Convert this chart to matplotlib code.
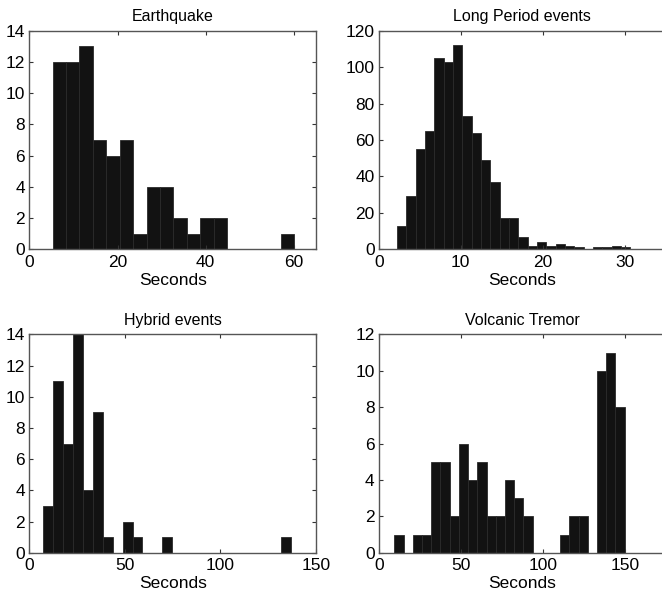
import numpy as np
import matplotlib
matplotlib.use('Agg')
import matplotlib.pyplot as plt

# ==========================[Data]=============================

eq_range = (5.3, 60.0)
eq_counts = [12, 12, 13, 7, 6, 7, 1, 4, 4, 2, 1, 2, 2, 0, 0, 0, 0, 1]

lp_range = (2.24, 30.7)
lp_counts = [13, 29, 55, 65, 105, 103, 112, 73, 64, 49, 37, 17, 17, 7,
             2, 4, 2, 3, 2, 1, 0, 1, 1, 2, 1]

hy_range = (7.3, 137.1)
hy_counts = [3, 11, 7, 14, 4, 9, 1, 0, 2, 1, 0, 0, 1,
             0, 0, 0, 0, 0, 0, 0, 0, 0, 0, 0, 1]

vt_range = (9.6, 150.0)
vt_counts = [1, 0, 1, 1, 5, 5, 2, 6, 4, 5, 2, 2, 4, 3, 2,
             0, 0, 0, 1, 2, 2, 0, 10, 11, 8]

titles = ['Earthquake', 'Long Period events', 'Hybrid events', 'Volcanic Tremor']
xlims = [65, 35, 150, 175]
xticks = [[0, 20, 40, 60], [0, 10, 20, 30], [0, 50, 100, 150], [0, 50, 100, 150]]
ylims = [14, 120, 14, 12]
ysteps = [2, 20, 2, 2]

# ==========================[Plot]=============================

plt.rcParams['font.family'] = ['Liberation Sans', 'DejaVu Sans']

W, H = 662, 592
fig = plt.figure(figsize=(W / 100, H / 100), dpi=100)

# axes boxes in pixels: left, top, right, bottom
boxes = [(29.3, 30.7, 316, 249.3),
         (378.7, 30.7, 665.7, 249.3),
         (29.3, 334.3, 316, 552.7),
         (378.7, 334.3, 665.7, 552.7)]

data = [(eq_range, eq_counts), (lp_range, lp_counts),
        (hy_range, hy_counts), (vt_range, vt_counts)]

for k in range(4):
    l, t, r, b = boxes[k]
    ax = fig.add_axes([l / W, 1 - b / H, (r - l) / W, (b - t) / H])
    rng, counts = data[k]
    edges = np.linspace(rng[0], rng[1], len(counts) + 1)
    ax.bar(edges[:-1], counts, width=np.diff(edges), align='edge',
           facecolor='#121212', edgecolor='#2a2a2a', linewidth=0.6)
    ax.set_xlim(0, xlims[k])
    ax.set_ylim(0, ylims[k])
    ax.set_xticks(xticks[k])
    ax.set_yticks(np.arange(0, ylims[k] + 1, ysteps[k]))
    ax.tick_params(direction='in', length=3, width=0.8, top=True, right=True,
                   labelsize=12.5, color='#333333')
    ax.tick_params(axis='x', pad=4)
    ax.tick_params(axis='y', pad=3)
    for s in ax.spines.values():
        s.set_color('#555555')
        s.set_linewidth(1.0)
    ax.set_title(titles[k], fontsize=11.5, pad=7)
    ax.set_xlabel('Seconds', fontsize=12.5, labelpad=2)

plt.savefig('out.png', dpi=100)
